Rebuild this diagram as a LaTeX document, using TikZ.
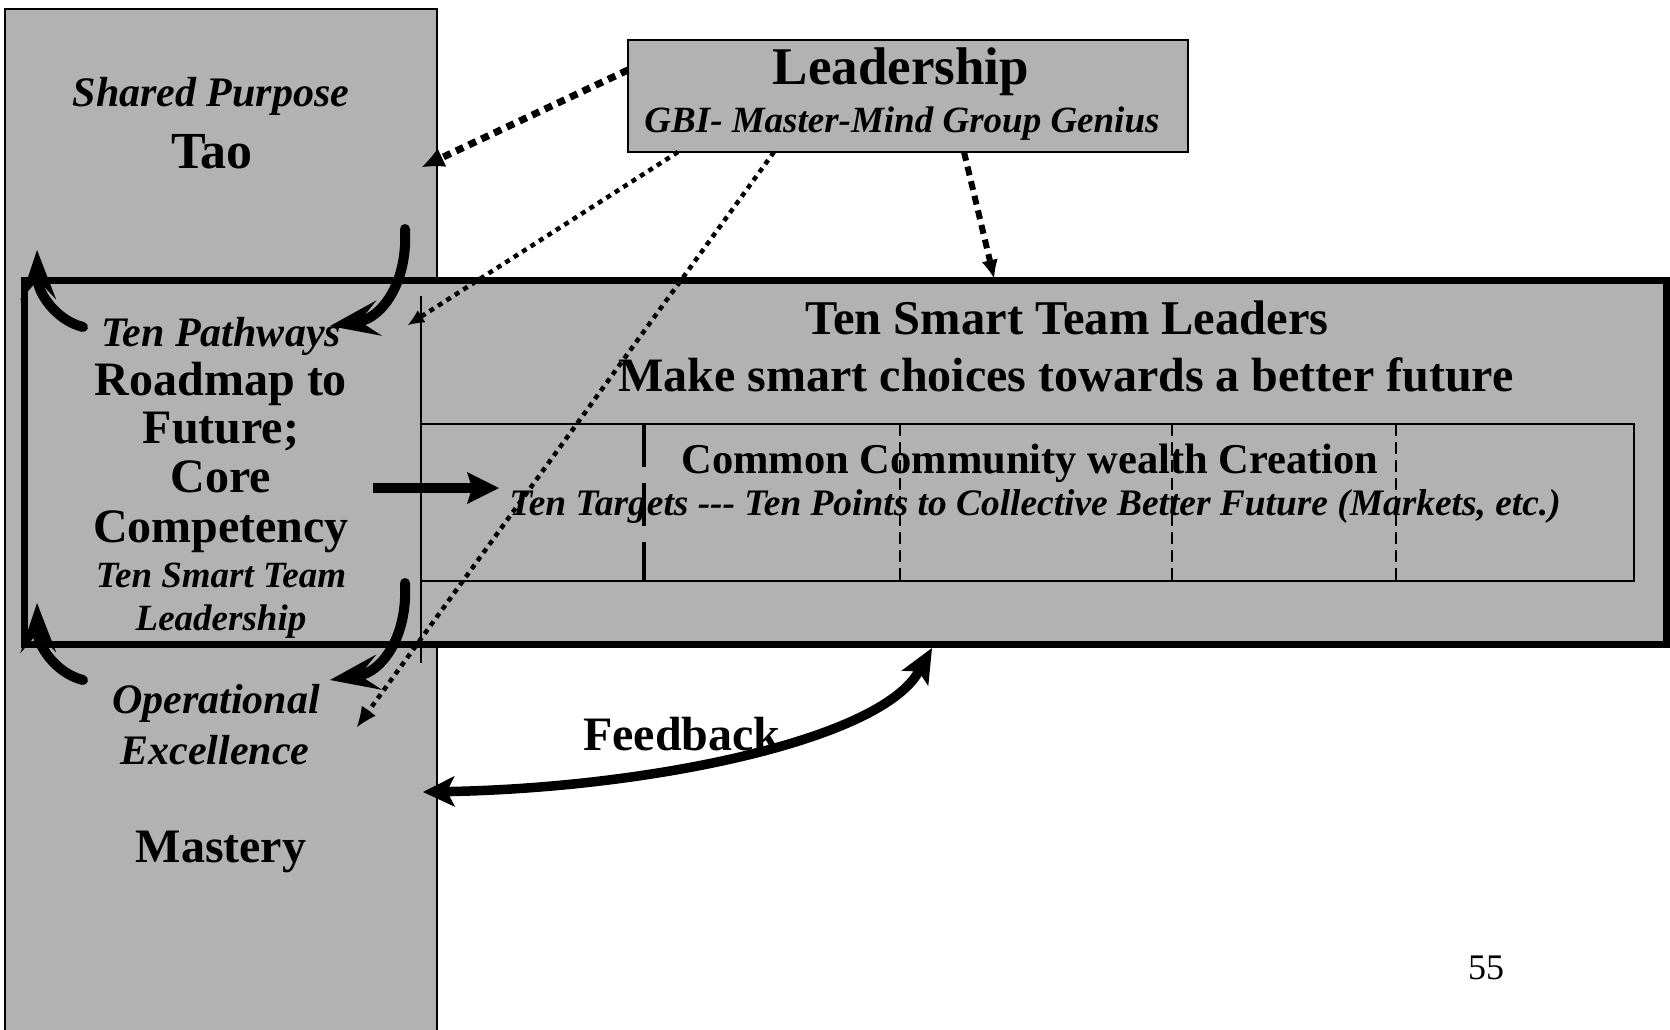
\documentclass[tikz,border=0pt]{standalone}
\usepackage{fontspec}
\setmainfont{Liberation Serif}
\usetikzlibrary{arrows.meta}
\definecolor{boxgray}{RGB}{178,178,178}
\begin{document}
\begin{tikzpicture}[x=1pt,y=-1pt,
  bt/.style={font=\fontsize{#1}{#1}\selectfont\bfseries, inner sep=0pt, anchor=base},
  bi/.style={font=\fontsize{#1}{#1}\selectfont\bfseries\itshape, inner sep=0pt, anchor=base},
  rmtext/.style={font=\fontsize{#1}{#1}\selectfont, inner sep=0pt, anchor=base},
  panel/.style={draw=black, fill=boxgray},
  curvearrow/.style={line width=10pt, line cap=round, -{Stealth[length=50pt,width=36pt,inset=20pt,line width=0pt]}},
  thindiv/.style={line width=2pt, dash pattern=on 12pt off 6pt}
]
\useasboundingbox (0,0) rectangle (1670,1030);
\fill[white] (0,0) rectangle (1670,1030);
% left column
\draw[panel, line width=2pt] (5,9) rectangle (437,1040);
% main band
\draw[panel, line width=7pt] (24,280) rectangle (1666,644);
% leadership box
\node[panel, line width=2pt, minimum width=560pt, minimum height=112pt, inner sep=0pt] (lead) at (908,96) {};
% inner structure
\draw[line width=2pt] (421,296) -- (421,663);
\draw[line width=2.5pt] (421,424) rectangle (1634,581);
\draw[line width=4.5pt, dash pattern=on 43pt off 16pt] (644,424) -- (644,581);
\foreach \x in {900,1172,1396} \draw[thindiv] (\x,424) -- (\x,581);

% texts
\node[bi=42] (shared) at (211,107) {Shared Purpose};
\node[bt=52] (tao) at (212,168) {Tao};
\node[bi=42] (pathways) at (221,346) {Ten Pathways};
\node[bt=48] (roadmap) at (221,395) {Roadmap to};
\node[bt=48] (future) at (221,443) {Future;};
\node[bt=48] (core) at (221,492) {Core};
\node[bt=48] (compet) at (221,542) {Competency};
\node[bi=37] (smartlead) at (221,587) {Ten Smart Team};
\node[bi=37] (leadship) at (221,630) {Leadership};
\node[bi=42] (oper) at (216,713) {Operational};
\node[bi=42] (excel) at (215,764) {Excellence};
\node[bt=48] (mastery) at (221,862) {Mastery};
\node[bt=53] (leadtitle) at (901,85) {Leadership};
\node[bi=37] (gbi) at (902,132) {GBI- Master-Mind Group Genius};
\node[bt=48.5] (tstl) at (1067,334) {Ten Smart Team Leaders};
\node[bt=48] (make) at (1066,391) {Make smart choices towards a better future};
\node[bt=42.5] (common) at (1030,473) {Common Community wealth Creation};
\node[bi=37.4] (targets) at (1035,515) {Ten Targets -{}-{}- Ten Points to Collective Better Future (Markets, etc.)};
\node[bt=48] (feedback) at (682,750) {Feedback};
\node[rmtext=36] (pagenum) at (1486,979) {55};

% curved cycle arrows
\coordinate (a1s) at (405,229); \coordinate (a1e) at (330,326);
\coordinate (b1s) at (83,327);  \coordinate (b1e) at (37,250);
\coordinate (a2s) at (405,583); \coordinate (a2e) at (330,680);
\coordinate (b2s) at (83,680);  \coordinate (b2e) at (37,603);
\draw[curvearrow] (a1s) .. controls (408,285) and (380,318) .. (a1e);
\draw[curvearrow] (b1s) .. controls (55,320) and (38,292) .. (b1e);
\draw[curvearrow] (a2s) .. controls (408,639) and (380,672) .. (a2e);
\draw[curvearrow] (b2s) .. controls (55,673) and (38,645) .. (b2e);

% straight arrow
\coordinate (sa) at (373,488); \coordinate (sb) at (499,488);
\draw[line width=10pt, -{Stealth[length=32pt,width=32pt,inset=5pt,line width=0pt]}] (sa) -- (sb);

% feedback
\coordinate (fbl) at (423,792); \coordinate (fbr) at (932,648);
\draw[line width=9.5pt, {Stealth[length=32pt,width=31pt,inset=8pt,line width=0pt]}-{Stealth[length=35pt,width=31pt,inset=8pt,line width=0pt]}] (fbl) .. controls (650,788) and (880,740) .. (fbr);

% dotted arrows from leadership
\coordinate (d1s) at (628,70);  \coordinate (d1e) at (422,167);
\coordinate (d2s) at (678,152); \coordinate (d2e) at (408,325);
\coordinate (d3s) at (774,152); \coordinate (d3e) at (357,727);
\coordinate (d4s) at (964,152); \coordinate (d4e) at (994,278);
\draw[line width=7pt, dash pattern=on 8pt off 6pt, -{Latex[length=22pt,width=20pt,line width=0pt]}] (d1s) -- (d1e);
\draw[line width=4.5pt, dash pattern=on 5pt off 5pt, -{Latex[length=16pt,width=14pt,line width=0pt]}] (d2s) -- (d2e);
\draw[line width=4.5pt, dash pattern=on 5pt off 5pt, -{Latex[length=20pt,width=17pt,line width=0pt]}] (d3s) -- (d3e);
\draw[line width=6pt, dash pattern=on 9pt off 6pt, -{Latex[length=18pt,width=16pt,line width=0pt]}] (d4s) -- (d4e);
\end{tikzpicture}
\end{document}
